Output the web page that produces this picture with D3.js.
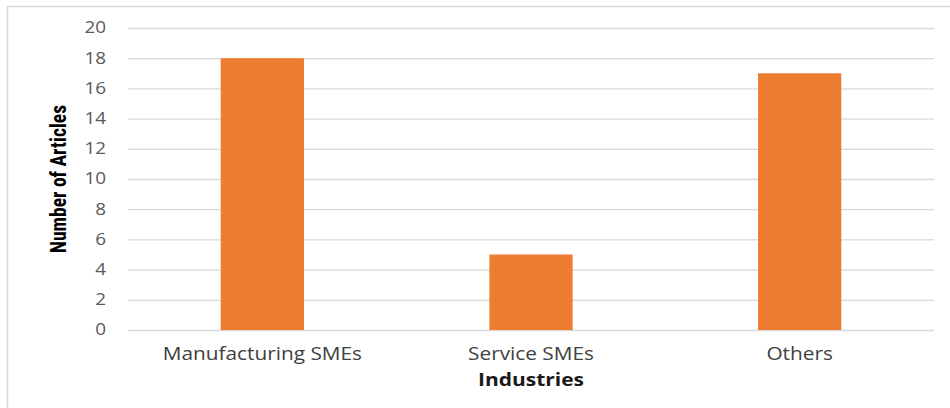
<!DOCTYPE html>
<html>
<head>
<meta charset="utf-8">
<script src="https://cdn.jsdelivr.net/npm/d3@7"></script>
<style>
  html, body { margin: 0; padding: 0; background: #fff; }
  svg { display: block; }
</style>
</head>
<body>
<div id="chart"></div>
<script>
// ── data ──
const categories = ['Manufacturing SMEs', 'Service SMEs', 'Others'];
const articles   = [18, 5, 17];
const yTicks     = [0, 2, 4, 6, 8, 10, 12, 14, 16, 18, 20];

const W = 950, H = 408;
const plot = { left: 128, right: 934, top: 28, bottom: 330 };
// the original picture is stretched sideways, so text is widened a little
const STRETCH = 1.22;

const svg = d3.select('#chart').append('svg')
  .attr('width', W).attr('height', H);

// chart frame (right/bottom edges fall outside the crop)
svg.append('rect')
  .attr('x', 7.5).attr('y', 6.5)
  .attr('width', W + 10).attr('height', H + 10)
  .attr('fill', '#fff').attr('stroke', '#d9d9d9').attr('stroke-width', 1.5);

const x = d3.scaleBand()
  .domain(categories)
  .range([plot.left, plot.right])
  .paddingInner(0.69)
  .paddingOuter(0.345);

const y = d3.scaleLinear()
  .domain([0, 20])
  .range([plot.bottom, plot.top]);

// gridlines
svg.append('g')
  .selectAll('line')
  .data(yTicks)
  .join('line')
  .attr('x1', plot.left).attr('x2', plot.right)
  .attr('y1', d => y(d) + 0.5).attr('y2', d => y(d) + 0.5)
  .attr('stroke', '#d9d9d9').attr('stroke-width', 1.3);

// y tick labels
const yAxis = d3.axisLeft(y).tickValues(yTicks).tickSize(0).tickPadding(0);
const gy = svg.append('g')
  .attr('transform', `translate(${plot.left - 22},0)`)
  .call(yAxis);
gy.select('.domain').remove();
gy.selectAll('text')
  .attr('fill', '#595959')
  .attr('transform', `scale(${STRETCH},1)`)
  .style('font-family', '"Open Sans", sans-serif')
  .style('font-size', '15.5px');

// bars
svg.append('g')
  .selectAll('rect')
  .data(articles)
  .join('rect')
  .attr('x', (d, i) => x(categories[i]))
  .attr('y', d => y(d))
  .attr('width', x.bandwidth())
  .attr('height', d => y(0) - y(d))
  .attr('fill', '#ed7d31');

// x category labels
const xAxis = d3.axisBottom(x).tickSize(0).tickPadding(0);
const gx = svg.append('g')
  .attr('transform', `translate(0,${plot.bottom + 18})`)
  .call(xAxis);
gx.select('.domain').remove();
gx.selectAll('text')
  .attr('fill', '#404040')
  .attr('transform', 'scale(1.19,1)')
  .style('font-family', '"Open Sans", sans-serif')
  .style('font-size', '17.5px');

// axis titles
svg.append('text')
  .attr('x', (plot.left + plot.right) / 2)
  .attr('y', 386)
  .attr('text-anchor', 'middle')
  .attr('fill', '#1a1a1a')
  .attr('textLength', 106)
  .attr('lengthAdjust', 'spacingAndGlyphs')
  .style('font-family', '"Open Sans", sans-serif')
  .style('font-weight', 'bold')
  .style('font-size', '17px')
  .text('Industries');

svg.append('text')
  .attr('transform', `translate(66,179) rotate(-90)`)
  .attr('text-anchor', 'middle')
  .attr('fill', '#000')
  .attr('textLength', 148)
  .attr('lengthAdjust', 'spacingAndGlyphs')
  .style('font-family', '"Liberation Sans Narrow", "Roboto Condensed", sans-serif')
  .style('font-weight', 'bold')
  .style('font-size', '22px')
  .text('Number of Articles');
</script>
</body>
</html>
